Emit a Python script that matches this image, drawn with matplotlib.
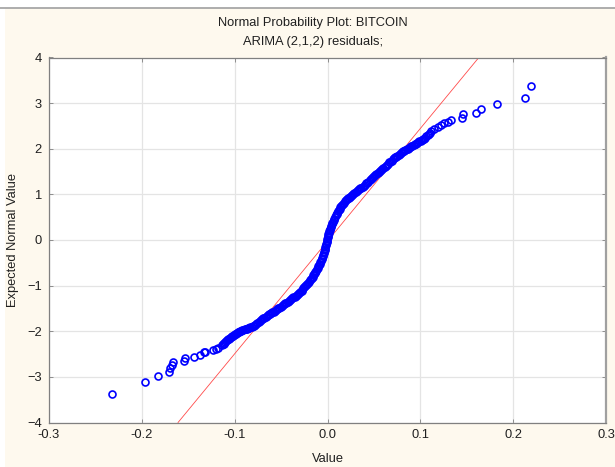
import numpy as np
import matplotlib.pyplot as plt
from matplotlib.patches import Rectangle
from matplotlib.lines import Line2D

plt.rcParams['font.family'] = ['Liberation Sans', 'DejaVu Sans']

# residual values (x) and expected normal values (y)
values = [
    -0.2326, -0.197, -0.1825, -0.171, -0.170, -0.168, -0.1663, -0.155, -0.154,
    -0.144, -0.1376, -0.1333, -0.132, -0.123, -0.120, -0.118, -0.114, -0.112,
    -0.110, -0.108, -0.106, -0.104, -0.102, -0.100,
    -0.098, -0.0955, -0.093, -0.0905, -0.088, -0.0855, -0.083, -0.0805, -0.078,
    -0.0755, -0.073, -0.0705, -0.068, -0.0655, -0.063, -0.0605, -0.058, -0.0555,
    -0.053, -0.0505, -0.048, -0.0455, -0.043, -0.0405, -0.038, -0.0355, -0.033,
    -0.0305, -0.028,
    -0.026, -0.024, -0.022, -0.020, -0.018, -0.016, -0.0145, -0.013, -0.0115,
    -0.010, -0.0085, -0.007, -0.0058, -0.0046, -0.0036, -0.0026, -0.0018,
    -0.0010, -0.0002, 0.0006, 0.0015, 0.0025, 0.0035, 0.0047, 0.006, 0.0075,
    0.009, 0.0105, 0.012, 0.014, 0.016, 0.018, 0.020, 0.022, 0.024,
    0.0265, 0.029, 0.0315, 0.034, 0.0365, 0.039, 0.0415, 0.044, 0.0465, 0.049,
    0.0515, 0.054, 0.0565, 0.059, 0.0615, 0.064, 0.0665, 0.069, 0.0715, 0.074,
    0.0765, 0.079, 0.0815, 0.084, 0.0865, 0.089, 0.0915, 0.094, 0.0965, 0.099,
    0.1015,
    0.104, 0.1065, 0.1097, 0.112, 0.115, 0.1186, 0.1222, 0.1258, 0.1294, 0.133,
    0.1448, 0.1455, 0.160, 0.165, 0.1824, 0.2125, 0.219,
]
expected = [
    -3.38, -3.12, -2.97, -2.89, -2.81, -2.73, -2.68, -2.65, -2.58,
    -2.57, -2.51, -2.46, -2.45, -2.41, -2.38, -2.36, -2.30, -2.27,
    -2.24, -2.20, -2.16, -2.13, -2.10, -2.07,
    -2.03, -2.01, -1.99, -1.97, -1.95, -1.93, -1.91, -1.89, -1.86,
    -1.82, -1.78, -1.74, -1.70, -1.66, -1.63, -1.60, -1.57, -1.54,
    -1.50, -1.46, -1.43, -1.39, -1.36, -1.32, -1.28, -1.24, -1.20,
    -1.16, -1.11,
    -1.06, -1.01, -0.96, -0.91, -0.86, -0.80, -0.75, -0.70, -0.64,
    -0.58, -0.52, -0.45, -0.39, -0.33, -0.26, -0.19, -0.12,
    -0.05, 0.02, 0.09, 0.16, 0.22, 0.28, 0.34, 0.40, 0.47,
    0.54, 0.60, 0.66, 0.72, 0.77, 0.82, 0.87, 0.91, 0.95,
    0.99, 1.03, 1.07, 1.11, 1.15, 1.19, 1.24, 1.28, 1.33, 1.37,
    1.42, 1.46, 1.51, 1.56, 1.61, 1.65, 1.70, 1.74, 1.79, 1.83,
    1.87, 1.91, 1.94, 1.97, 2.00, 2.03, 2.07, 2.10, 2.13, 2.16,
    2.19,
    2.22, 2.27, 2.33, 2.38, 2.43, 2.47, 2.52, 2.56, 2.59, 2.63,
    2.68, 2.76, 2.79, 2.87, 2.98, 3.12, 3.38,
]

# extra readings inside the dense part of the band
values_band = [
    -0.113, -0.111, -0.109, -0.107, -0.105, -0.103, -0.101, -0.099,
    -0.09675, -0.09425, -0.09175, -0.08925, -0.08675, -0.08425, -0.08175,
    -0.07925, -0.07675, -0.07425, -0.07175, -0.06925, -0.06675, -0.06425,
    -0.06175, -0.05925, -0.05675, -0.05425, -0.05175, -0.04925, -0.04675,
    -0.04425, -0.04175, -0.03925, -0.03675, -0.03425, -0.03175, -0.02925, -0.027,
    -0.025, -0.023, -0.021, -0.019, -0.017, -0.01525, -0.01375, -0.01225,
    -0.01075, -0.00925, -0.00775, -0.0064, -0.0052, -0.0041, -0.0031, -0.0022,
    -0.0014, -0.0006, 0.0002, 0.001, 0.002, 0.003, 0.0041, 0.0053, 0.0067,
    0.0082, 0.0097, 0.0112, 0.013, 0.015, 0.017, 0.019, 0.021, 0.023, 0.02525,
    0.02775, 0.03025, 0.03275, 0.03525, 0.03775, 0.04025, 0.04275, 0.04525,
    0.04775, 0.05025, 0.05275, 0.05525, 0.05775, 0.06025, 0.06275, 0.06525,
    0.06775, 0.07025, 0.07275, 0.07525, 0.07775, 0.08025, 0.08275, 0.08525,
    0.08775, 0.09025, 0.09275, 0.09525, 0.09775, 0.10025,
    0.1028, 0.1053, 0.108, 0.1108,
]
expected_band = [
    -2.285, -2.255, -2.22, -2.18, -2.145, -2.115, -2.085, -2.05,
    -2.02, -2.00, -1.98, -1.96, -1.94, -1.92, -1.90,
    -1.875, -1.84, -1.80, -1.76, -1.72, -1.68, -1.645,
    -1.615, -1.585, -1.555, -1.52, -1.48, -1.445, -1.41,
    -1.375, -1.34, -1.30, -1.26, -1.22, -1.18, -1.135, -1.085,
    -1.035, -0.985, -0.935, -0.885, -0.83, -0.775, -0.725, -0.67,
    -0.61, -0.55, -0.485, -0.42, -0.36, -0.295, -0.225, -0.155,
    -0.085, -0.015, 0.055, 0.125, 0.19, 0.25, 0.31, 0.37, 0.435,
    0.505, 0.57, 0.63, 0.69, 0.745, 0.795, 0.845, 0.89, 0.93, 0.97,
    1.01, 1.05, 1.09, 1.13, 1.17, 1.215, 1.26, 1.305,
    1.35, 1.395, 1.44, 1.485, 1.535, 1.585, 1.63, 1.675,
    1.72, 1.765, 1.81, 1.85, 1.89, 1.925, 1.955, 1.985,
    2.015, 2.05, 2.085, 2.115, 2.145, 2.175,
    2.205, 2.245, 2.30, 2.355,
]

# reference normal line
line_x = [-0.161, 0.163]
line_y = [-4, 4]

xticks = [-0.3, -0.2, -0.1, 0.0, 0.1, 0.2, 0.3]
yticks = [-4, -3, -2, -1, 0, 1, 2, 3, 4]

fs = 9.3
fig = plt.figure(figsize=(6.15, 4.67), dpi=100, facecolor='white')
fig.patches.append(Rectangle((5 / 615, 0), 1, 1 - 8 / 467, transform=fig.transFigure,
                             facecolor='#fef9ee', edgecolor='none', zorder=-10))
fig.lines.append(Line2D([0, 1], [1 - 7.5 / 467] * 2, transform=fig.transFigure,
                        color='#a0a0a0', lw=1.2))

ax = fig.add_axes([49 / 615, 1 - 422.5 / 467, 557 / 615, 365 / 467])
ax.set_facecolor('white')
ax.plot(values, expected, 'o', mfc='none', mec='#0000ff', ms=5.0, mew=1.2, zorder=3)
ax.plot(values_band, expected_band, 'o', mfc='none', mec='#0000ff', ms=5.0, mew=1.2, zorder=3)
ax.plot(line_x, line_y, color='#ff4a4a', lw=0.6, zorder=2)

ax.set_xlim(-0.3, 0.3)
ax.set_ylim(-4, 4)
ax.set_xticks(xticks)
ax.set_xticklabels([f'{t:.1f}' for t in xticks])
ax.set_yticks(yticks)
ax.grid(True, color='#e4e4e4', lw=0.9)
ax.set_axisbelow(True)
ax.tick_params(direction='in', length=3, width=0.6, color='#808080',
               top=True, right=True, labelsize=fs, labelcolor='#202020', pad=5)
for s in ax.spines.values():
    s.set_color('#808080')
    s.set_linewidth(0.9)
ax.spines['right'].set_linewidth(1.6)
ax.spines['right'].set_color('#a0a0a0')

ax.set_xlabel('Value', fontsize=fs, color='#202020', labelpad=8)
ax.set_ylabel('Expected Normal Value', fontsize=fs, color='#202020', labelpad=6)

fig.text(313 / 615, 1 - 23 / 467, 'Normal Probability Plot: BITCOIN', ha='center', va='center',
         fontsize=fs, color='#202020')
fig.text(313 / 615, 1 - 42 / 467, 'ARIMA (2,1,2) residuals;', ha='center', va='center',
         fontsize=fs, color='#202020')

fig.savefig('out.png', dpi=100, facecolor=fig.get_facecolor())
